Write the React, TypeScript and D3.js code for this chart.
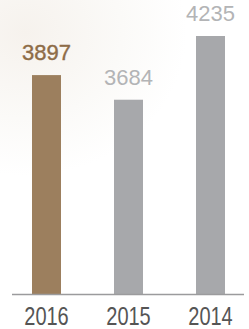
import React from 'react';
import * as d3 from 'd3';

const years = ['2016', '2015', '2014'];
const values = [3897, 3684, 4235];
const highlightYear = '2016';
const yMin = 2000;

const W = 249;
const H = 329;
const baseY = 294.5;
const topY = 36;
const barW = 29;

export default function App() {
  const x = d3.scalePoint<string>().domain(years).range([46.5, 210.5]);
  const y = d3.scaleLinear().domain([yMin, d3.max(values) as number]).range([baseY, topY]);

  return (
    <svg
      width={W}
      height={H}
      viewBox={`0 0 ${W} ${H}`}
      style={{ position: 'absolute', left: 0, top: 0, display: 'block' }}
    >
      <defs>
        <radialGradient id="bgTex" cx="0.1" cy="0.15" r="0.65">
          <stop offset="0" stopColor="#f6f2ed" />
          <stop offset="0.6" stopColor="#fbfaf8" />
          <stop offset="1" stopColor="#ffffff" />
        </radialGradient>
      </defs>
      <rect width={W} height={H} fill="#fff" />
      <rect width={W} height={220} fill="url(#bgTex)" />

      {/* bars */}
      {years.map((yr, i) => {
        const hi = yr === highlightYear;
        return (
          <g key={yr}>
            <rect
              x={(x(yr) as number) - barW / 2}
              y={y(values[i])}
              width={barW}
              height={baseY - y(values[i])}
              fill={hi ? '#9c7f5e' : '#a7a8ab'}
            />
            <text
              x={x(yr)}
              y={y(values[i]) - 15}
              textAnchor="middle"
              fontFamily="'Liberation Sans', Arial, sans-serif"
              fontSize={22}
              fontWeight={400}
              stroke={hi ? '#8e6c47' : 'none'}
              strokeWidth={0.4}
              fill={hi ? '#8e6c47' : '#b3b4b6'}
            >
              {values[i]}
            </text>
          </g>
        );
      })}

      {/* baseline */}
      <line x1={12} x2={244} y1={baseY} y2={baseY} stroke="#9b9b9d" strokeWidth={1.6} />

      {/* year labels, narrow face */}
      {years.map((yr) => (
        <text
          key={yr}
          transform={`translate(${x(yr)},324.5) scale(0.8,1)`}
          textAnchor="middle"
          fontFamily="'Liberation Sans', Arial, sans-serif"
          fontSize={25}
          fill="#555555"
        >
          {yr}
        </text>
      ))}
    </svg>
  );
}
